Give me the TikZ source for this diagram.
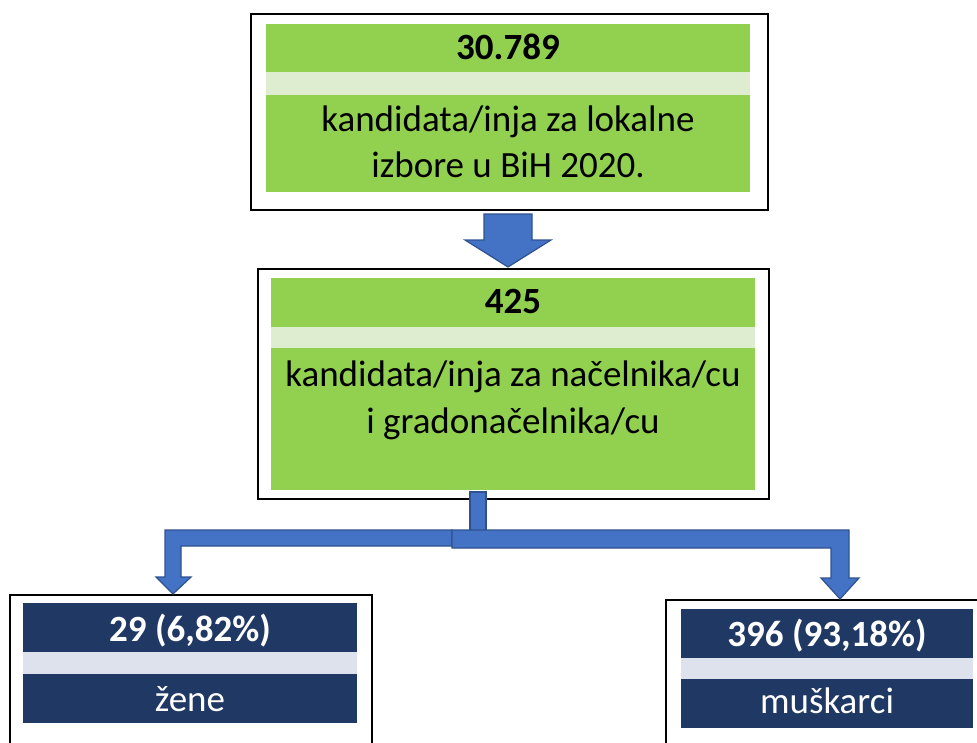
\documentclass[tikz,border=0pt]{standalone}
\usepackage{fontspec}
\setmainfont{Carlito}
\definecolor{grn}{HTML}{92D050}
\definecolor{lgrn}{HTML}{DEEDCF}
\definecolor{navy}{HTML}{203864}
\definecolor{lnavy}{HTML}{DEE2EC}
\definecolor{ablue}{HTML}{4472C4}
\definecolor{aedge}{HTML}{2F528F}
\begin{document}
\begin{tikzpicture}[x=1pt,y=-1pt,
  outerbox/.style={draw=black,line width=1.8pt,fill=white,inner sep=0pt,anchor=north west},
  band/.style={inner sep=0pt,anchor=north west,draw=none},
  blocktxt/.style={anchor=base,inner sep=0pt,font=\fontsize{37}{45}\selectfont},
  boldtxt/.style={blocktxt,font=\fontsize{37}{45}\selectfont\bfseries},
  arrowshape/.style={fill=ablue,draw=aedge,line width=1.2pt,line join=miter}]
\useasboundingbox (0,0) rectangle (977,742);
\clip (0,0) rectangle (977,742);
\fill[white] (0,0) rectangle (977,742);

% ---- top box
\node[outerbox,minimum width=517pt,minimum height=196pt] (top) at (250,13) {};
\node[band,fill=grn,minimum width=484pt,minimum height=48pt] (topT) at (266,24) {};
\node[band,fill=lgrn,minimum width=484pt,minimum height=23pt] (topM) at (266,72) {};
\node[band,fill=grn,minimum width=484pt,minimum height=97pt] (topB) at (266,95) {};
\node[boldtxt] (t1) at (508,59) {30.789};
\node[blocktxt] (t2) at (508,131) {kandidata/inja za lokalne};
\node[blocktxt] (t3) at (508,177) {izbore u BiH 2020.};

% ---- middle box
\node[outerbox,minimum width=511pt,minimum height=230pt] (mid) at (257,268) {};
\node[band,fill=grn,minimum width=484pt,minimum height=49pt] (midT) at (271,278) {};
\node[band,fill=lgrn,minimum width=484pt,minimum height=21pt] (midM) at (271,327) {};
\node[band,fill=grn,minimum width=484pt,minimum height=142pt] (midB) at (271,348) {};
\node[boldtxt] (m1) at (513,313) {425};
\node[blocktxt] (m2) at (513,386) {kandidata/inja za načelnika/cu};
\node[blocktxt] (m3) at (513,433) {i gradonačelnika/cu};

% ---- bottom left box
\node[outerbox,minimum width=362pt,minimum height=170pt] (left) at (9,594) {};
\node[band,fill=navy,minimum width=334pt,minimum height=49pt] (leftT) at (23,603) {};
\node[band,fill=lnavy,minimum width=334pt,minimum height=22pt] (leftM) at (23,652) {};
\node[band,fill=navy,minimum width=334pt,minimum height=49pt] (leftB) at (23,674) {};
\node[boldtxt,text=white] (l1) at (190,641) {29 (6,82\%)};
\node[blocktxt,text=white] (l2) at (190,711) {žene};

% ---- bottom right box
\node[outerbox,minimum width=340pt,minimum height=170pt] (right) at (665,599) {};
\node[band,fill=navy,minimum width=292pt,minimum height=49pt] (rightT) at (681,609) {};
\node[band,fill=lnavy,minimum width=292pt,minimum height=21pt] (rightM) at (681,658) {};
\node[band,fill=navy,minimum width=292pt,minimum height=49pt] (rightB) at (681,679) {};
\node[boldtxt,text=white] (r1) at (827,646) {396 (93,18\%)};
\node[blocktxt,text=white] (r2) at (827,713) {muškarci};

% ---- block arrow top -> middle
\draw[arrowshape] (484,214) -- (532,214) -- (532,240) -- (551,240) -- (508,267)
  -- (465,240) -- (484,240) -- cycle;

% ---- branching connector
\draw[arrowshape] (470,492) rectangle (486,531);
\draw[arrowshape] (452,530) -- (165,530) -- (165,577) -- (156,577) -- (173,594)
  -- (191,577) -- (181,577) -- (181,546) -- (452,546) -- cycle;
\draw[arrowshape] (452,530) -- (849,530) -- (849,578) -- (859,578) -- (840,599)
  -- (821,578) -- (831,578) -- (831,548) -- (452,548) -- cycle;
\end{tikzpicture}
\end{document}
